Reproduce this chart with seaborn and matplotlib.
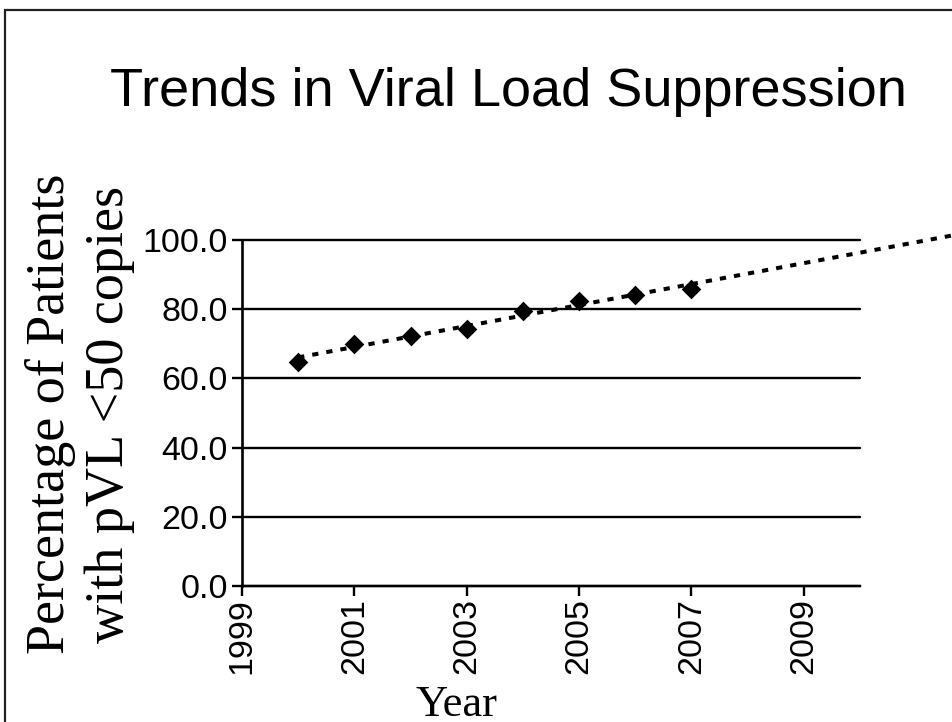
import numpy as np
import pandas as pd
import matplotlib
matplotlib.use("Agg")
import matplotlib.pyplot as plt
from matplotlib.patches import Rectangle
import seaborn as sns

# Annual share of patients with plasma viral load below 50 copies
years = [2000, 2001, 2002, 2003, 2004, 2005, 2006, 2007]
pct_suppressed = [64.8, 69.9, 72.3, 74.3, 79.5, 82.5, 84.2, 85.8]
x_ticks = [1999, 2001, 2003, 2005, 2007, 2009]
y_ticks = [0, 20, 40, 60, 80, 100]

df = pd.DataFrame({"Year": years, "Pct": pct_suppressed})

sns.set_theme(style="white")
plt.rcParams["font.family"] = ["Liberation Sans", "DejaVu Sans"]

fig = plt.figure(figsize=(9.52, 7.22), dpi=100)
ax = fig.add_axes([242 / 952, 1 - 586 / 722, (860 - 242) / 952, (586 - 240) / 722])

# horizontal reference lines at each y tick
for yv in y_ticks:
    ax.axhline(yv, color="black", lw=1.7, zorder=1, clip_on=False)

sns.scatterplot(data=df, x="Year", y="Pct", marker="D", s=100, color="black",
                edgecolor="black", linewidth=0, ax=ax, zorder=4, legend=False)

# least-squares trend, extended forward past the last observed year
slope, intercept = np.polyfit(df["Year"], df["Pct"], 1)
trend_x = np.array([2000, 2011.9])
ax.plot(trend_x, slope * trend_x + intercept, color="black", lw=2.9,
        linestyle=(0, (1.55, 2.0)), dash_capstyle="butt", clip_on=False, zorder=3)

ax.set_xlim(1999, 2010)
ax.set_ylim(0, 100)
ax.set_xticks(x_ticks)
ax.set_xticklabels([str(v) for v in x_ticks], rotation=90)
ax.set_yticks(y_ticks)
ax.set_yticklabels([f"{v:.1f}" for v in y_ticks])
ax.tick_params(axis="both", labelsize=24.5, colors="black", length=7, width=1.7,
               direction="out", left=True, bottom=True)
ax.tick_params(axis="y", pad=3)
ax.tick_params(axis="x", pad=2)
ax.set_xlabel("")
ax.set_ylabel("")

for side in ["top", "right"]:
    ax.spines[side].set_visible(False)
ax.spines["left"].set_color("black")
ax.spines["left"].set_linewidth(1.9)
ax.spines["bottom"].set_color("black")
ax.spines["bottom"].set_linewidth(1.7)

fig.text(508 / 952, 1 - 106 / 722, "Trends in Viral Load Suppression",
         ha="center", va="baseline", fontsize=39, color="black")
fig.text(80 / 952, 1 - 414 / 722, "Percentage of Patients\nwith pVL <50 copies",
         ha="center", va="center", rotation=90, fontsize=39,
         family=["Liberation Serif", "DejaVu Serif"], linespacing=1.2,
         multialignment="center", color="black")
fig.text(457 / 952, 1 - 716 / 722, "Year", ha="center", va="baseline",
         fontsize=32, family=["Liberation Serif", "DejaVu Serif"], color="black")

# slide frame
fig.patches.append(Rectangle((5 / 952, -0.1), 1.2, 1 - 10 / 722 + 0.1,
                             transform=fig.transFigure, fill=False,
                             edgecolor="#222222", lw=1.6, zorder=0))

fig.savefig("out.png", dpi=100)
